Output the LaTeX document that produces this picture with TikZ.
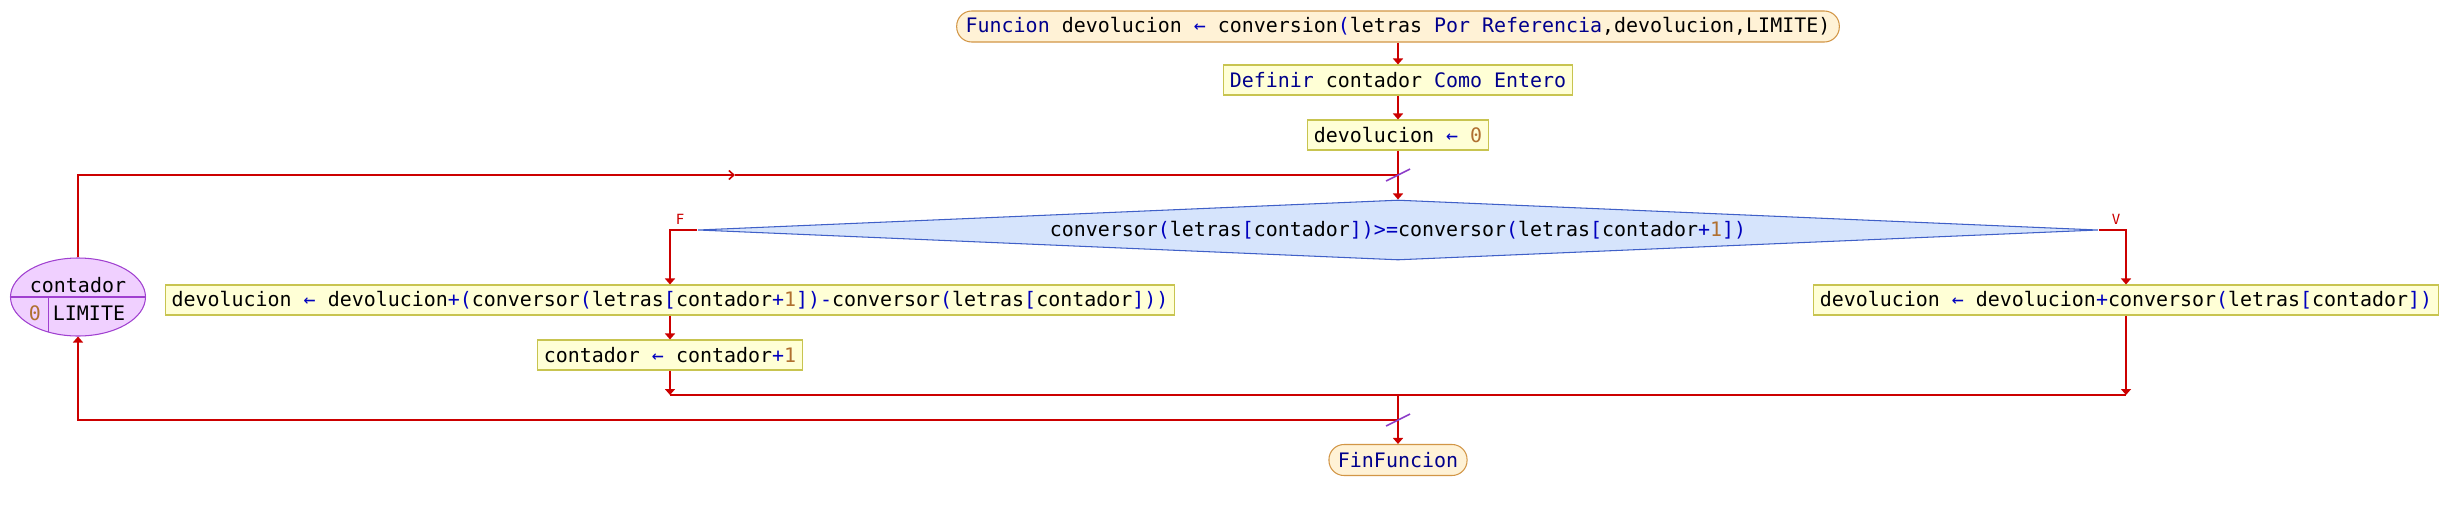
\documentclass[tikz,border=0pt]{standalone}
\usepackage{fontspec}
\usetikzlibrary{arrows.meta,shapes.geometric}
\newfontfamily\psfont{DejaVu Sans Mono}
\definecolor{linea}{RGB}{204,0,0}
\definecolor{morado}{RGB}{140,60,200}
\definecolor{relleno}{RGB}{255,255,214}
\definecolor{borde}{RGB}{200,196,80}
\definecolor{rellenoT}{RGB}{255,242,214}
\definecolor{bordeT}{RGB}{210,150,70}
\definecolor{rellenoD}{RGB}{214,228,252}
\definecolor{bordeD}{RGB}{64,96,200}
\definecolor{rellenoE}{RGB}{240,208,255}
\definecolor{bordeE}{RGB}{160,64,208}
\definecolor{clave}{RGB}{0,0,140}
\definecolor{oper}{RGB}{0,0,190}
\definecolor{numero}{RGB}{176,112,48}
\newcommand{\kw}[1]{\textcolor{clave}{#1}}
\newcommand{\op}[1]{\textcolor{oper}{#1}}
\newcommand{\nm}[1]{\textcolor{numero}{#1}}
\tikzset{
  flujo/.style={draw=linea, line width=0.9pt},
  flecha/.style={flujo, -{Triangle[length=1.2mm,width=2mm]}},
  caja/.style={draw=borde, fill=relleno, line width=0.6pt, minimum height=6mm, inner xsep=1.2mm, inner ysep=0pt},
  terminal/.style={draw=bordeT, fill=rellenoT, rounded corners=3mm, line width=0.6pt, minimum height=6.2mm, inner xsep=1.8mm, inner ysep=0pt},
  decision/.style={diamond, draw=bordeD, fill=rellenoD, line width=0.6pt, minimum width=280mm, minimum height=12mm, inner sep=0pt, aspect=23},
  marca/.style={draw=morado, line width=0.9pt},
  etiq/.style={text=linea, font=\psfont\fontsize{8}{9}\selectfont}
}
\begin{document}
\begin{tikzpicture}[x=0.2mm, y=-0.2mm, every node/.append style={font=\psfont\fontsize{11.35}{13}\selectfont}]
  \path[use as bounding box, fill=white] (0,0) rectangle (2448,510);
  \node[terminal] (inicio) at (1398,26.5) {\kw{Funcion} devolucion \op{←} conversion\op{(}letras \kw{Por Referencia},devolucion,LIMITE)};
  \node[caja] (definir) at (1398,80) {\kw{Definir} contador \kw{Como Entero}};
  \node[caja] (asig0) at (1398,135) {devolucion \op{←} \nm{0}};
  \node[decision] (cond) at (1398,230) {conversor\op{(}letras\op{[}contador\op{])>=}conversor\op{(}letras\op{[}contador\op{+}\nm{1}\op{])}};
  \node[caja] (ramaF) at (670,300) {devolucion \op{←} devolucion\op{+(}conversor\op{(}letras\op{[}contador\op{+}\nm{1}\op{])-}conversor\op{(}letras\op{[}contador\op{]))}};
  \node[caja] (incr) at (670,355) {contador \op{←} contador\op{+}\nm{1}};
  \node[caja] (ramaV) at (2126,300) {devolucion \op{←} devolucion\op{+}conversor\op{(}letras\op{[}contador\op{])}};
  \node[terminal] (fin) at (1398,460) {\kw{FinFuncion}};
  \node[ellipse, draw=bordeE, fill=rellenoE, line width=0.6pt, minimum width=27mm, minimum height=15.6mm, inner sep=0pt] (para) at (78,297) {};
  \draw[draw=bordeE, line width=0.6pt] (para.west) -- (para.east) (48.5,297) -- (48.5,332);
  \node (paraVar) at (78,285) {contador};
  \node (paraIni) at (35,313) {\nm{0}};
  \node (paraFin) at (89,313) {LIMITE};
  \coordinate (jsup) at (1398,175);
  \coordinate (jinf) at (1398,420);
  \coordinate (medio) at (735,175);
  \coordinate (uF) at (670,395);
  \coordinate (uV) at (2126,395);
  \coordinate (union) at (1398,395);
  \draw[flecha] (inicio) -- (definir);
  \draw[flecha] (definir) -- (asig0);
  \draw[flecha] (asig0) -- (cond.north);
  \draw[flecha] (cond.west) -| (ramaF.north);
  \draw[flecha] (cond.east) -| (ramaV.north);
  \draw[flecha] (ramaF) -- (incr);
  \draw[flecha] (incr) -- (uF);
  \draw[flecha] (ramaV) -- (uV);
  \draw[flujo] (uF) -- (uV);
  \draw[flecha] (union) -- (fin);
  \draw[flecha] (jinf) -| (para.south);
  \draw[flujo, -{Straight Barb[length=1mm,width=1.8mm]}] (para.north) |- (medio);
  \draw[flujo] (medio) -- (jsup);
  \draw[marca] ([shift={(-12,6)}]jsup) -- ([shift={(12,-6)}]jsup);
  \draw[marca] ([shift={(-12,6)}]jinf) -- ([shift={(12,-6)}]jinf);
  \node[etiq] (etF) at (680,219) {F};
  \node[etiq] (etV) at (2116,219) {V};
\end{tikzpicture}
\end{document}
